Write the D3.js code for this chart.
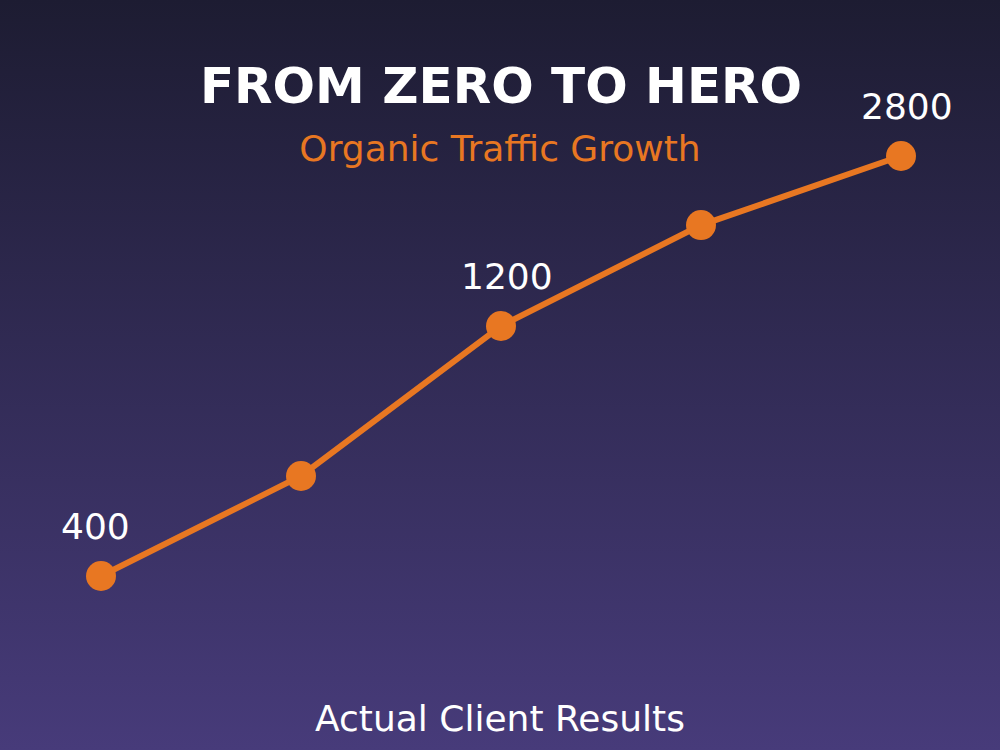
<!DOCTYPE html>
<html>
<head>
<meta charset="utf-8">
<script src="https://cdn.jsdelivr.net/npm/d3@7"></script>
<style>
html,body{margin:0;padding:0;background:#1e1d33;}
svg{display:block;}
</style>
</head>
<body>
<svg id="chart" width="1000" height="750"></svg>
<script>
// Data
const steps = [1, 2, 3, 4, 5];
const traffic = [400, 720, 1200, 2150, 2800];
const labelledValues = [400, 1200, 2800];
const titleText = "FROM ZERO TO HERO";
const subtitleText = "Organic Traffic Growth";
const footerText = "Actual Client Results";

const W = 1000, H = 750;
const svg = d3.select("#chart");

const defs = svg.append("defs");
const grad = defs.append("linearGradient").attr("id", "bg")
  .attr("x1", 0).attr("y1", 0).attr("x2", 0).attr("y2", 1);
grad.append("stop").attr("offset", "0%").attr("stop-color", "#1d1c32");
grad.append("stop").attr("offset", "100%").attr("stop-color", "#473b7a");
svg.append("rect").attr("width", W).attr("height", H).attr("fill", "url(#bg)");

const x = d3.scalePoint().domain(steps).range([101, 901]);
const y = d3.scaleLinear().domain([400, 1200, 2800]).range([576, 326, 156]);

const orange = "#e87722";
const font = "'DejaVu Sans', sans-serif";

const pts = steps.map((s, i) => ({ s, v: traffic[i] }));

svg.append("path")
  .datum(pts)
  .attr("fill", "none")
  .attr("stroke", orange)
  .attr("stroke-width", 6)
  .attr("d", d3.line().x(d => x(d.s)).y(d => y(d.v)));

svg.selectAll("circle.pt").data(pts).join("circle")
  .attr("class", "pt")
  .attr("cx", d => x(d.s)).attr("cy", d => y(d.v))
  .attr("r", 15).attr("fill", orange);

svg.selectAll("text.val").data(pts.filter(d => labelledValues.includes(d.v))).join("text")
  .attr("class", "val")
  .attr("x", d => x(d.s) - 40)
  .attr("y", d => y(d.v) - 37)
  .attr("fill", "#ffffff")
  .attr("font-family", font)
  .attr("font-size", 36)
  .text(d => d.v);

svg.append("text")
  .attr("x", 501).attr("y", 103)
  .attr("text-anchor", "middle")
  .attr("fill", "#ffffff")
  .attr("font-family", font)
  .attr("font-weight", "bold")
  .attr("font-size", 50)
  .text(titleText);

svg.append("text")
  .attr("x", 500).attr("y", 161)
  .attr("text-anchor", "middle")
  .attr("fill", orange)
  .attr("font-family", font)
  .attr("font-size", 36)
  .text(subtitleText);

svg.append("text")
  .attr("x", 500).attr("y", 731)
  .attr("text-anchor", "middle")
  .attr("fill", "#ffffff")
  .attr("font-family", font)
  .attr("font-size", 36)
  .text(footerText);
</script>
</body>
</html>
